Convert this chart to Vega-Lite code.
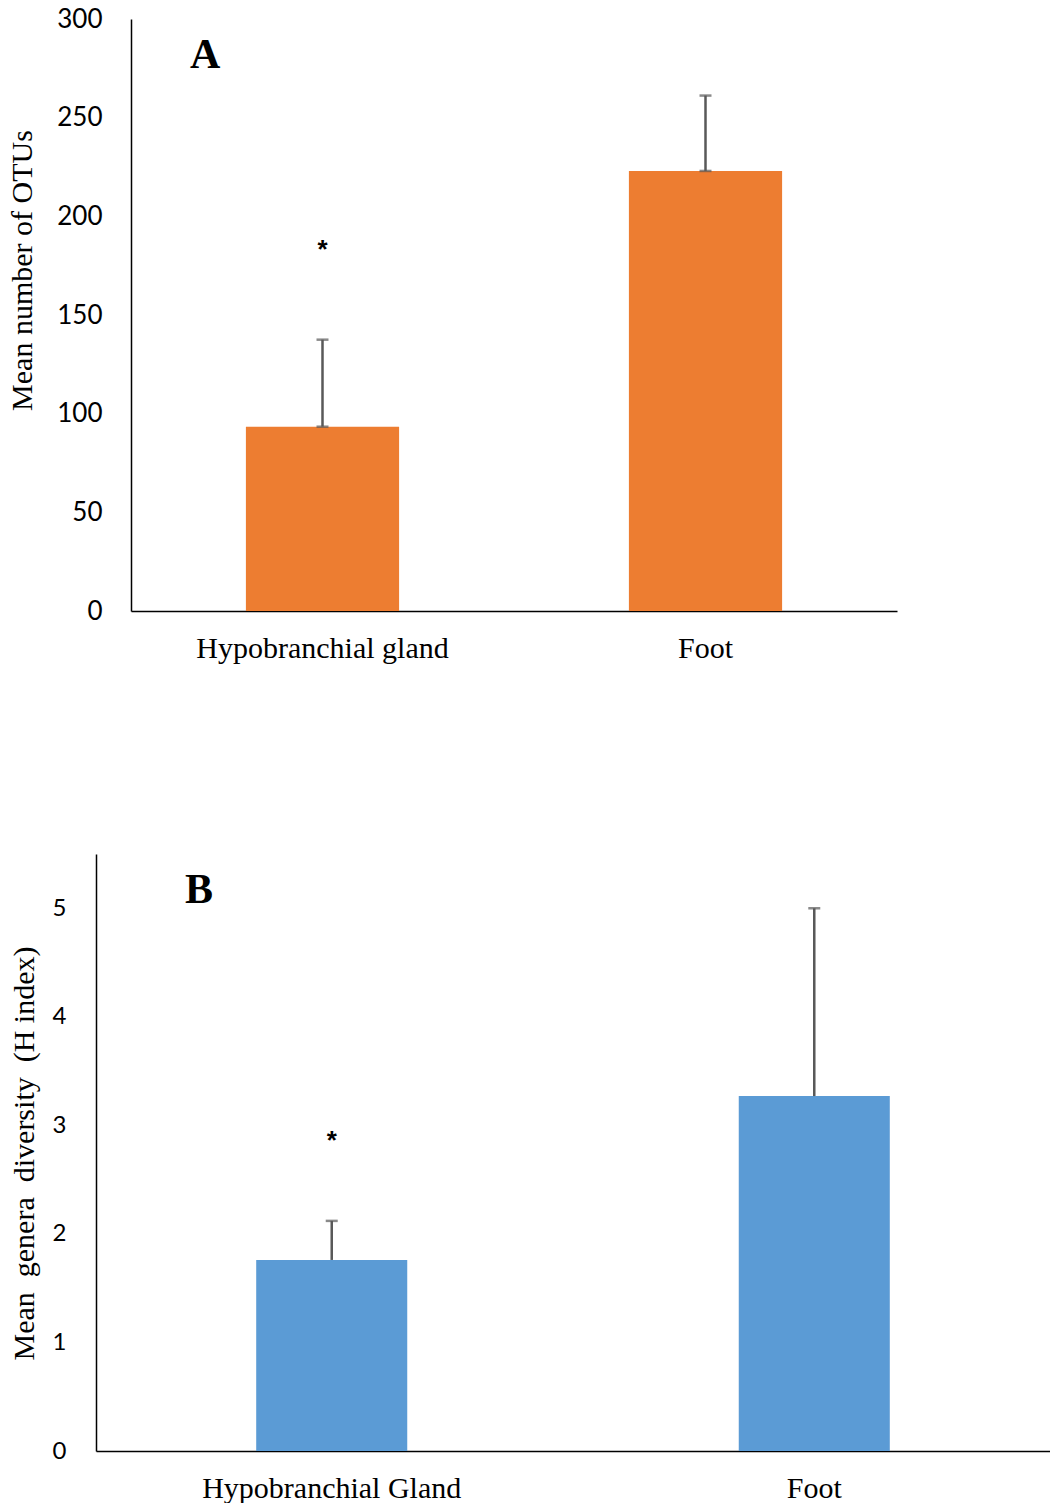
{
  "$schema": "https://vega.github.io/schema/vega-lite/v6.json",
  "padding": {"left": 6, "top": 6, "right": 0, "bottom": 0},
  "autosize": {"type": "pad"},
  "background": "white",
  "config": {"view": {"stroke": null}},
  "datasets": {
    "otus": [
      {"tissue": "Hypobranchial gland", "mean": 93.4, "upper": 137.5, "star": 183, "sig": "*"},
      {"tissue": "Foot", "mean": 223.0, "upper": 261.2, "star": null, "sig": ""}
    ],
    "div": [
      {"tissue": "Hypobranchial Gland", "mean": 1.76, "upper": 2.12, "star": 2.86, "sig": "*"},
      {"tissue": "Foot", "mean": 3.27, "upper": 5.0, "star": null, "sig": ""}
    ]
  },
  "spacing": 191,
  "vconcat": [
    {
      "width": 801,
      "height": 592,
      "title": {"text": "A", "anchor": "start", "frame": "group", "dx": 94, "dy": 75, "font": "Liberation Serif", "fontSize": 42, "fontWeight": "bold", "color": "black"},
      "data": {"name": "otus"},
      "encoding": {
        "x": {
          "field": "tissue", "type": "nominal", "sort": null,
          "scale": {"range": [35, 801], "paddingInner": 0.6, "paddingOuter": 0.3},
          "axis": {"title": null, "labelAngle": 0, "labelLimit": 0, "ticks": false, "domainColor": "black", "domainWidth": 1.5, "labelFont": "Liberation Serif", "labelFontSize": 30, "labelColor": "black", "labelPadding": 22, "labelBaseline": "top"}
        }
      },
      "layer": [
        {
          "mark": {"type": "bar", "color": "#ED7D31"},
          "encoding": {
            "y": {
              "field": "mean", "type": "quantitative",
              "scale": {"domain": [0, 300]},
              "axis": {"offset": -35, "title": "Mean number of OTUs", "titleFont": "Liberation Serif", "titleFontSize": 30, "titleFontWeight": "normal", "titleColor": "black", "titleAngle": -90, "titleX": -100, "titleY": 251, "titleBaseline": "alphabetic", "titleAlign": "center", "grid": false, "ticks": false, "domainColor": "black", "domainWidth": 1.5, "labelFont": "Lato", "labelFontSize": 26, "labelColor": "black", "labelPadding": 29, "values": [0, 50, 100, 150, 200, 250, 300]}
            }
          }
        },
        {
          "mark": {"type": "rule", "color": "#595959", "strokeWidth": 2.5},
          "encoding": {"y": {"field": "mean", "type": "quantitative"}, "y2": {"field": "upper"}}
        },
        {
          "mark": {"type": "tick", "color": "#595959", "thickness": 2.5, "size": 12, "orient": "horizontal"},
          "encoding": {"y": {"field": "upper", "type": "quantitative"}}
        },
        {
          "mark": {"type": "tick", "color": "#595959", "thickness": 2.5, "size": 12, "orient": "horizontal"},
          "encoding": {"y": {"field": "mean", "type": "quantitative"}}
        },
        {
          "transform": [{"filter": "datum.star != null"}],
          "mark": {"type": "text", "font": "Liberation Sans", "fontSize": 26, "fontWeight": "bold", "color": "black", "baseline": "middle"},
          "encoding": {"y": {"field": "star", "type": "quantitative"}, "text": {"field": "sig"}}
        }
      ]
    },
    {
      "width": 954,
      "height": 597,
      "title": {"text": "B", "anchor": "start", "frame": "group", "dx": 89, "dy": 62, "font": "Liberation Serif", "fontSize": 42, "fontWeight": "bold", "color": "black"},
      "data": {"name": "div"},
      "encoding": {
        "x": {
          "field": "tissue", "type": "nominal", "sort": null,
          "scale": {"paddingInner": 0.687, "paddingOuter": 0.332},
          "axis": {"title": null, "labelAngle": 0, "labelLimit": 0, "ticks": false, "domainColor": "black", "domainWidth": 1.5, "labelFont": "Liberation Serif", "labelFontSize": 30, "labelColor": "black", "labelPadding": 22, "labelBaseline": "top"}
        }
      },
      "layer": [
        {
          "mark": {"type": "bar", "color": "#5B9BD5"},
          "encoding": {
            "y": {
              "field": "mean", "type": "quantitative",
              "scale": {"domain": [0, 5.5], "nice": false},
              "axis": {"title": "Mean\u00a0 genera\u00a0 diversity\u00a0 (H index)", "titleFont": "Liberation Serif", "titleFontSize": 30, "titleFontWeight": "normal", "titleColor": "black", "titleAngle": -90, "titleX": -63, "titleY": 299, "titleBaseline": "alphabetic", "titleAlign": "center", "grid": false, "ticks": false, "domainColor": "black", "domainWidth": 1.5, "labelFont": "Lato", "labelFontSize": 24, "labelColor": "black", "labelPadding": 30, "format": "d", "values": [0, 1, 2, 3, 4, 5]}
            }
          }
        },
        {
          "mark": {"type": "rule", "color": "#595959", "strokeWidth": 2.5},
          "encoding": {"y": {"field": "mean", "type": "quantitative"}, "y2": {"field": "upper"}}
        },
        {
          "mark": {"type": "tick", "color": "#595959", "thickness": 2.5, "size": 12, "orient": "horizontal"},
          "encoding": {"y": {"field": "upper", "type": "quantitative"}}
        },
        {
          "transform": [{"filter": "datum.star != null"}],
          "mark": {"type": "text", "font": "Liberation Sans", "fontSize": 26, "fontWeight": "bold", "color": "black", "baseline": "middle"},
          "encoding": {"y": {"field": "star", "type": "quantitative"}, "text": {"field": "sig"}}
        }
      ]
    }
  ]
}
